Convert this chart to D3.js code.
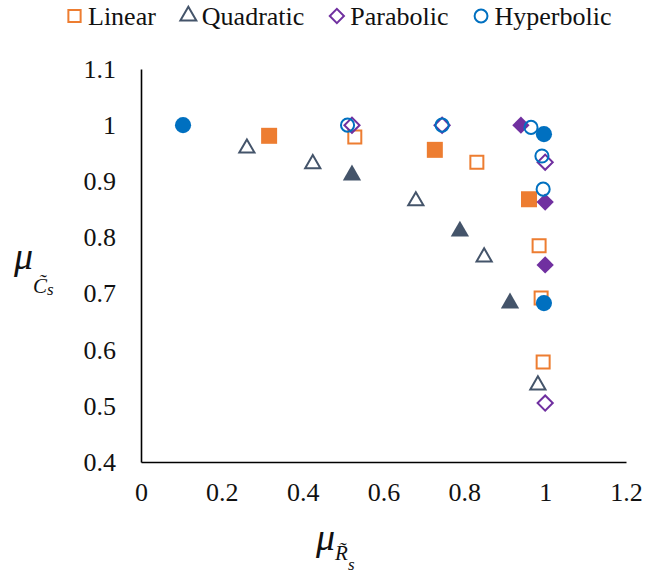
<!DOCTYPE html>
<html>
<head>
<meta charset="utf-8">
<script src="https://cdn.jsdelivr.net/npm/d3@7"></script>
<style>
  html, body { margin: 0; padding: 0; background: #fff; }
  svg { display: block; }
</style>
</head>
<body>
<svg id="chart" width="662" height="573"></svg>
<script>
// ---- data ----
const seriesNames = ["Linear", "Quadratic", "Parabolic", "Hyperbolic"];
const xTicks = [0, 0.2, 0.4, 0.6, 0.8, 1, 1.2];
const yTicks = [0.4, 0.5, 0.6, 0.7, 0.8, 0.9, 1, 1.1];

const linearHollowX = [0.529, 0.831, 0.985, 0.99, 0.995];
const linearHollowY = [0.979, 0.934, 0.785, 0.692, 0.578];
const linearFilledX = [0.317, 0.727, 0.96];
const linearFilledY = [0.981, 0.956, 0.868];

const quadHollowX = [0.262, 0.425, 0.68, 0.849, 0.982];
const quadHollowY = [0.959, 0.931, 0.865, 0.765, 0.537];
const quadFilledX = [0.522, 0.789, 0.913];
const quadFilledY = [0.911, 0.811, 0.683];

const paraHollowX = [0.522, 0.745, 1.0, 1.0];
const paraHollowY = [1.0, 1.0, 0.934, 0.505];
const paraFilledX = [0.94, 1.0, 1.0];
const paraFilledY = [1.0, 0.863, 0.751];

const hypHollowX = [0.511, 0.745, 0.965, 0.992, 0.995];
const hypHollowY = [1.0, 1.0, 0.996, 0.945, 0.886];
const hypFilledX = [0.104, 0.997, 0.997];
const hypFilledY = [1.0, 0.984, 0.683];

// ---- style ----
const FONT = "'Liberation Serif', 'Times New Roman', serif";
const colors = { Linear: "#ED7D31", Quadratic: "#44546A", Parabolic: "#7030A0", Hyperbolic: "#0070C0" };
const svg = d3.select("#chart");
const x = d3.scaleLinear().domain([0, 1.2]).range([141, 626]);
const y = d3.scaleLinear().domain([0.4, 1.1]).range([462, 69]);

// axes
const fmt = d => String(+d.toFixed(1));
const xAxis = d3.axisBottom(x).tickValues(xTicks).tickFormat(fmt).tickSizeInner(0).tickSizeOuter(0).tickPadding(21);
const yAxis = d3.axisLeft(y).tickValues(yTicks).tickFormat(fmt).tickSizeInner(0).tickSizeOuter(0).tickPadding(25);
const gx = svg.append("g").attr("transform", "translate(0,462)").call(xAxis);
const gy = svg.append("g").attr("transform", "translate(141,0)").call(yAxis);
[gx, gy].forEach(g => {
  g.attr("font-family", null).attr("font-size", null);
  g.select(".domain").attr("stroke", "#000").attr("stroke-width", 1.6);
  g.selectAll("text").style("font-family", FONT).style("font-size", "26px").attr("fill", "#111");
});

// symbols
const sym = {
  Linear: { type: d3.symbolSquare, hollow: 169, filled: 256, rot: 0 },
  Quadratic: { type: d3.symbolTriangle, hollow: 100, filled: 145, rot: 0 },
  Parabolic: { type: d3.symbolSquare, hollow: 115, filled: 150, rot: 45 },
  Hyperbolic: { type: d3.symbolCircle, hollow: 135, filled: 205, rot: 0 }
};
const plotData = [
  ["Linear", linearHollowX, linearHollowY, linearFilledX, linearFilledY],
  ["Quadratic", quadHollowX, quadHollowY, quadFilledX, quadFilledY],
  ["Parabolic", paraHollowX, paraHollowY, paraFilledX, paraFilledY],
  ["Hyperbolic", hypHollowX, hypHollowY, hypFilledX, hypFilledY]
];
const marks = svg.append("g");
plotData.forEach(([name, hx, hy, fx, fy]) => {
  const s = sym[name], c = colors[name];
  const g = marks.append("g");
  g.selectAll("path.h").data(hx.map((v, i) => [v, hy[i]])).join("path")
    .attr("d", d3.symbol(s.type, s.hollow))
    .attr("transform", d => `translate(${x(d[0])},${y(d[1])}) rotate(${s.rot})`)
    .attr("fill", "none").attr("stroke", c).attr("stroke-width", 2);
  g.selectAll("path.f").data(fx.map((v, i) => [v, fy[i]])).join("path")
    .attr("d", d3.symbol(s.type, s.filled))
    .attr("transform", d => `translate(${x(d[0])},${y(d[1])}) rotate(${s.rot})`)
    .attr("fill", c).attr("stroke", "none");
});

// legend
const legendSize = { Linear: 150, Quadratic: 110, Parabolic: 100, Hyperbolic: 130 };
const legend = svg.append("g");
let lx = 67;
seriesNames.forEach(name => {
  const s = sym[name];
  legend.append("path")
    .attr("d", d3.symbol(s.type, legendSize[name]))
    .attr("transform", `translate(${lx + 7.5},16) rotate(${s.rot})`)
    .attr("fill", "none").attr("stroke", colors[name]).attr("stroke-width", 2);
  const t = legend.append("text").attr("x", lx + 21).attr("y", 25)
    .style("font-family", FONT).style("font-size", "26px").attr("fill", "#111").text(name);
  lx = lx + 21 + t.node().getComputedTextLength() + 25;
});

// axis titles
function title(g, xx, yy, sub, subsub, dySub, dySubSub) {
  const t = g.append("text").attr("x", xx).attr("y", yy)
    .style("font-family", FONT).style("font-style", "italic").attr("fill", "#111");
  t.append("tspan").style("font-size", "38px").text("μ");
  t.append("tspan").style("font-size", "21px").attr("dy", dySub).text(sub);
  t.append("tspan").style("font-size", "17px").attr("dy", dySubSub).text(subsub);
}
title(svg, 14, 269, "C\u0303", "s", 24, 2);
title(svg, 316, 550, "R\u0303", "s", 10, 10);
</script>
</body>
</html>
